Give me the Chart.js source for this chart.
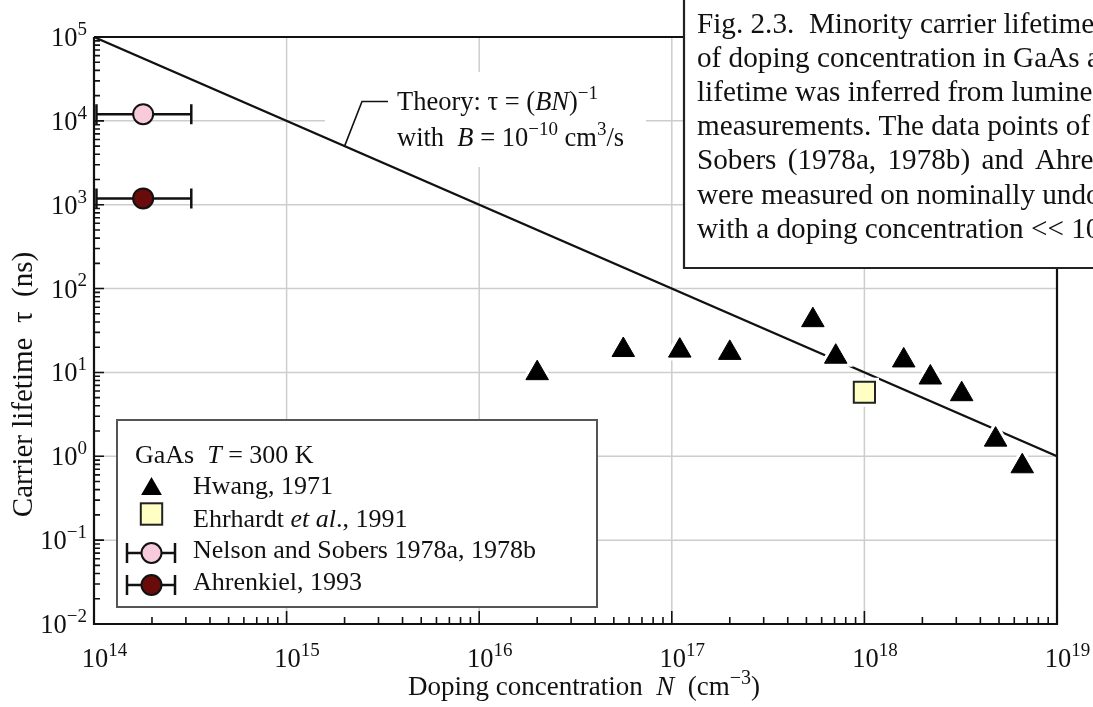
<!DOCTYPE html>
<html><head><meta charset="utf-8">
<script src="https://cdn.jsdelivr.net/npm/chart.js@4"></script>
<style>html,body{margin:0;padding:0;background:#fff;overflow:hidden}canvas{display:block}</style>
</head><body>
<canvas id="c" width="1093" height="707"></canvas>
<script>
// ---------- data ----------
const xTickExponents = [14, 15, 16, 17, 18, 19];
const yTickExponents = [-2, -1, 0, 1, 2, 3, 4, 5];
const hwangN   = [2.0e16, 5.6e16, 1.10e17, 2.0e17, 5.4e17, 7.1e17, 1.6e18, 2.2e18, 3.2e18, 4.8e18, 6.6e18];
const hwangTau = [9.8, 18.5, 18.2, 17.1, 42, 15.4, 13.9, 8.7, 5.5, 1.58, 0.76];
const ehrhardtN   = [1.0e18];
const ehrhardtTau = [5.8];
const nelsonN    = [1.8e14];
const nelsonTau  = [1.2e4];
const nelsonNmin = [1.03e14];
const nelsonNmax = [3.2e14];
const ahrenkielN    = [1.8e14];
const ahrenkielTau  = [1.19e3];
const ahrenkielNmin = [1.03e14];
const ahrenkielNmax = [3.2e14];
const theoryN   = [1e14, 1e19];
const theoryTau = [1e5, 1];
const calloutAnchor = {x: 2e15, y: 5e3};

const legendTitle = [{t:'GaAs  '},{t:'T',i:1},{t:' = 300 K'}];
const legendLabels = [
  [{t:'Hwang, 1971'}],
  [{t:'Ehrhardt '},{t:'et al',i:1},{t:'., 1991'}],
  [{t:'Nelson and Sobers 1978a, 1978b'}],
  [{t:'Ahrenkiel, 1993'}]
];
const captionLines = [
  [{t:'Fig. 2.3.  Minority carrier lifetime as a function'}],
  [{t:'of doping concentration in GaAs at room'}],
  [{t:'lifetime was inferred from luminescence'}],
  [{t:'measurements. The data points of Nelson'}],
  'Sobers (1978a, 1978b) and Ahrenkiel (1993)',
  [{t:'were measured on nominally undoped'}],
  [{t:'with a doping concentration << 10'},{t:'15',sup:1}]
];

// ---------- helpers ----------
const FONT = '"Liberation Serif", "Times New Roman", Times, serif';
function font(size, italic){ return (italic ? 'italic ' : '') + size + 'px ' + FONT; }
function richWidth(ctx, parts, size){
  let w = 0; const ss = Math.round(size*0.73);
  for (const p of parts){ ctx.font = font(p.sup ? ss : size, p.i); w += ctx.measureText(p.t).width; }
  return w;
}
function drawRich(ctx, parts, x, y, size, align){
  const ss = Math.round(size*0.73);
  const w = richWidth(ctx, parts, size);
  let cx = align === 'right' ? x - w : align === 'center' ? x - w/2 : x;
  ctx.textAlign = 'left'; ctx.textBaseline = 'alphabetic'; ctx.fillStyle = '#111';
  for (const p of parts){
    ctx.font = font(p.sup ? ss : size, p.i);
    ctx.fillText(p.t, cx, p.sup ? y - size*0.42 : y);
    cx += ctx.measureText(p.t).width;
  }
  return w;
}
function pts(xs, ys){ return xs.map((v,i)=>({x:v, y:ys[i]})); }
function triangle(ctx, cx, cy, r){
  ctx.beginPath();
  ctx.moveTo(cx, cy - r);
  ctx.lineTo(cx + r*Math.sqrt(3)/2, cy + r/2);
  ctx.lineTo(cx - r*Math.sqrt(3)/2, cy + r/2);
  ctx.closePath();
}
function errBar(ctx, x0, x1, y){
  ctx.strokeStyle = '#111'; ctx.lineWidth = 2.5;
  ctx.beginPath();
  ctx.moveTo(x0, y); ctx.lineTo(x1, y);
  ctx.moveTo(x0, y-10); ctx.lineTo(x0, y+10);
  ctx.moveTo(x1, y-10); ctx.lineTo(x1, y+10);
  ctx.stroke();
}

const PINK = '#f8cbdc', MAROON = '#6a0b0b', YELLOW = '#ffffc4';

// ---------- plugin ----------
const decor = {
  id: 'decor',
  beforeDatasetsDraw(chart){
    const {ctx, chartArea: a, scales: {x, y}} = chart;
    ctx.save();
    // gridlines at decades
    ctx.strokeStyle = '#cdcdcd'; ctx.lineWidth = 1.5;
    ctx.beginPath();
    for (const e of xTickExponents){
      const px = x.getPixelForValue(Math.pow(10, e));
      if (px <= a.left + 1 || px >= a.right - 1) continue;
      ctx.moveTo(px, a.top); ctx.lineTo(px, a.bottom);
    }
    for (const e of yTickExponents){
      const py = y.getPixelForValue(Math.pow(10, e));
      if (py <= a.top + 1 || py >= a.bottom - 1) continue;
      ctx.moveTo(a.left, py); ctx.lineTo(a.right, py);
    }
    ctx.stroke();
    // white background behind theory text
    ctx.fillStyle = '#fff';
    ctx.fillRect(325, 72, 321, 95);
    // error bars
    const sets = [[nelsonNmin, nelsonNmax, nelsonTau], [ahrenkielNmin, ahrenkielNmax, ahrenkielTau]];
    for (const [mn, mx, ty] of sets){
      mn.forEach((v, i) => errBar(ctx, x.getPixelForValue(v), x.getPixelForValue(mx[i]), y.getPixelForValue(ty[i])));
    }
    ctx.restore();
  },
  afterDatasetsDraw(chart){
    const {ctx, chartArea: a, scales: {x, y}} = chart;
    ctx.save();
    // frame
    ctx.strokeStyle = '#111'; ctx.lineWidth = 2.2;
    ctx.beginPath();
    ctx.moveTo(a.left, a.top); ctx.lineTo(a.left, a.bottom); ctx.lineTo(a.right, a.bottom); ctx.lineTo(a.right, a.top); ctx.lineTo(a.left, a.top);
    ctx.stroke();
    // tick marks (inward)
    ctx.lineWidth = 1.6;
    ctx.beginPath();
    for (let k = 0; k < xTickExponents.length; k++){
      const e = xTickExponents[k];
      const last = k === xTickExponents.length - 1;
      for (let m = 1; m <= (last ? 1 : 9); m++){
        const px = x.getPixelForValue(m * Math.pow(10, e));
        const len = m === 1 ? 13 : 7;
        ctx.moveTo(px, a.bottom); ctx.lineTo(px, a.bottom - len);
      }
    }
    for (let k = 0; k < yTickExponents.length; k++){
      const e = yTickExponents[k];
      const last = k === yTickExponents.length - 1;
      for (let m = 1; m <= (last ? 1 : 9); m++){
        const py = y.getPixelForValue(m * Math.pow(10, e));
        const len = m === 1 ? 10 : 6;
        ctx.moveTo(a.left, py); ctx.lineTo(a.left + len, py);
      }
    }
    ctx.stroke();
    // tick labels
    const TS = 26.5;
    for (const e of xTickExponents){
      const px = x.getPixelForValue(Math.pow(10, e));
      ctx.font = font(TS);
      const w10 = ctx.measureText('10').width;
      drawRich(ctx, [{t:'10'},{t:String(e).replace('-', '\u2212'), sup:1}], px - w10/2 + 1, 667, TS, 'left');
    }
    for (const e of yTickExponents){
      const py = y.getPixelForValue(Math.pow(10, e));
      drawRich(ctx, [{t:'10'},{t:String(e).replace('-', '\u2212'), sup:1}], 87, py + 9, TS, 'right');
    }
    // axis titles
    drawRich(ctx, [{t:'Doping concentration  '},{t:'N',i:1},{t:'  (cm'},{t:'\u22123',sup:1},{t:')'}], 408, 695, 27, 'left');
    ctx.save();
    ctx.translate(31.5, 384.5);
    ctx.rotate(-Math.PI/2);
    drawRich(ctx, [{t:'Carrier lifetime  \u03c4  (ns)'}], 0, 0, 29, 'center');
    ctx.restore();

    // theory annotation
    const ax = x.getPixelForValue(calloutAnchor.x), ay = y.getPixelForValue(calloutAnchor.y);
    ctx.strokeStyle = '#111'; ctx.lineWidth = 1.6;
    ctx.beginPath(); ctx.moveTo(ax, ay); ctx.lineTo(362, 101.5); ctx.lineTo(388, 101.5); ctx.stroke();
    drawRich(ctx, [{t:'Theory: \u03c4 = ('},{t:'BN',i:1},{t:')'},{t:'\u22121',sup:1}], 397, 110, 26.5, 'left');
    drawRich(ctx, [{t:'with  '},{t:'B',i:1},{t:' = 10'},{t:'\u221210',sup:1},{t:' cm'},{t:'3',sup:1},{t:'/s'}], 397, 146, 26.5, 'left');

    // legend box
    ctx.fillStyle = '#fff';
    ctx.fillRect(117, 420, 480, 187);
    ctx.strokeStyle = '#555'; ctx.lineWidth = 2;
    ctx.strokeRect(117, 420, 480, 187);
    drawRich(ctx, legendTitle, 135, 463, 26, 'left');
    const rowBase = [494, 527, 558, 590];
    legendLabels.forEach((parts, i) => drawRich(ctx, parts, 193, rowBase[i], 26, 'left'));
    // legend markers
    const mx = 151.5;
    ctx.fillStyle = '#000';
    triangle(ctx, mx, 489, 12); ctx.fill();
    ctx.fillStyle = YELLOW; ctx.strokeStyle = '#222'; ctx.lineWidth = 2;
    ctx.fillRect(mx - 10.7, 503.3, 21.4, 21.4); ctx.strokeRect(mx - 10.7, 503.3, 21.4, 21.4);
    errBar(ctx, 127, 175, 553);
    errBar(ctx, 127, 175, 585);
    for (const [cy, col] of [[553, PINK], [585, MAROON]]){
      ctx.beginPath(); ctx.arc(mx, cy, 10, 0, Math.PI*2);
      ctx.fillStyle = col; ctx.fill();
      ctx.strokeStyle = '#111'; ctx.lineWidth = 2; ctx.stroke();
    }

    // caption box
    ctx.fillStyle = '#fff';
    ctx.fillRect(684, -2, 420, 270);
    ctx.strokeStyle = '#222'; ctx.lineWidth = 2.2;
    ctx.beginPath(); ctx.moveTo(684, -2); ctx.lineTo(684, 268); ctx.lineTo(1100, 268); ctx.stroke();
    const CS = 29.2;
    captionLines.forEach((ln, i) => {
      const by = 33 + i * 34.1;
      if (typeof ln === 'string'){
        const words = ln.split(' ');
        ctx.font = font(CS);
        const ws = words.slice(0, 4).map(w => ctx.measureText(w).width);
        const gap = (1035 - 697 - ws.reduce((s, v) => s + v, 0)) / 4;
        let cx = 697;
        ctx.fillStyle = '#111'; ctx.textAlign = 'left'; ctx.textBaseline = 'alphabetic';
        words.forEach((w) => { ctx.fillText(w, cx, by); cx += ctx.measureText(w).width + gap; });
      } else {
        drawRich(ctx, ln, 697, by, CS, 'left');
      }
    });
    ctx.restore();
  }
};

new Chart(document.getElementById('c'), {
  type: 'scatter',
  data: {
    datasets: [
      {label: 'Theory', data: pts(theoryN, theoryTau), showLine: true, borderColor: '#111', borderWidth: 2.2, pointRadius: 0, order: 10},
      {label: 'halo1', data: pts(hwangN, hwangTau), pointStyle: 'triangle', pointRadius: 13, backgroundColor: '#fff', borderColor: '#fff', borderWidth: 7, order: 9},
      {label: 'halo2', data: pts(ehrhardtN, ehrhardtTau), pointStyle: 'rect', pointRadius: 15, backgroundColor: '#fff', borderColor: '#fff', borderWidth: 8, order: 9},
      {label: 'Hwang, 1971', data: pts(hwangN, hwangTau), pointStyle: 'triangle', pointRadius: 13, backgroundColor: '#000', borderColor: '#000', borderWidth: 1, order: 3},
      {label: 'Ehrhardt et al., 1991', data: pts(ehrhardtN, ehrhardtTau), pointStyle: 'rect', pointRadius: 15, backgroundColor: YELLOW, borderColor: '#222', borderWidth: 2, order: 2},
      {label: 'Nelson and Sobers 1978a, 1978b', data: pts(nelsonN, nelsonTau), pointStyle: 'circle', pointRadius: 10, backgroundColor: PINK, borderColor: '#111', borderWidth: 2, order: 1},
      {label: 'Ahrenkiel, 1993', data: pts(ahrenkielN, ahrenkielTau), pointStyle: 'circle', pointRadius: 10, backgroundColor: MAROON, borderColor: '#111', borderWidth: 2, order: 1}
    ]
  },
  options: {
    responsive: false,
    animation: false,
    events: [],
    layout: {padding: {left: 94, right: 36, top: 37, bottom: 83}},
    plugins: {legend: {display: false}, tooltip: {enabled: false}},
    scales: {
      x: {type: 'logarithmic', min: 1e14, max: 1e19, display: false},
      y: {type: 'logarithmic', min: 1e-2, max: 1e5, display: false}
    }
  },
  plugins: [decor]
});
</script>
</body></html>
